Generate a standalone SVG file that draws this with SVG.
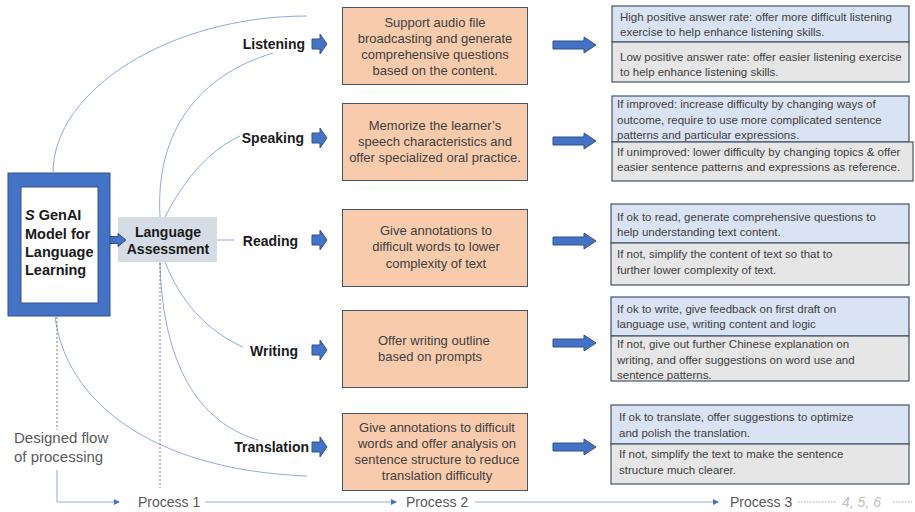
<svg xmlns="http://www.w3.org/2000/svg" xmlns:xlink="http://www.w3.org/1999/xlink" width="915" height="512" viewBox="0 0 915 512">
<style>
text{font-family:"Liberation Sans",Arial,sans-serif}
.lbl{font-size:14px;font-weight:bold;fill:#1a1a1a;text-anchor:end}
.org{fill:#f8cbad;stroke:#44546a;stroke-width:1}
.ot{font-size:13px;fill:#404040;text-anchor:middle}
.bl{fill:#dae3f3;stroke:#44546a;stroke-width:1.2}
.gr{fill:#e7e6e6;stroke:#44546a;stroke-width:1.2}
.rt{font-size:11.5px;fill:#404040}
.cur{fill:none;stroke:#8faadc;stroke-width:1}
.dash{fill:none;stroke:#7f7f7f;stroke-width:1;stroke-dasharray:2,2}
.ax{fill:none;stroke:#8faadc;stroke-width:1}
.pt{font-size:14px;fill:#595959}
.arr{fill:#4472c4;stroke:#2f528f;stroke-width:1}
</style>
<defs>
<path id="la" d="M0,-5 H8 V-10 L15,0 L8,10 V5 H0 Z"/>
<path id="ba" d="M0,-4 H31 V-8 L43,0 L31,8 V4 H0 Z"/>
<marker id="tri" markerWidth="6" markerHeight="6" refX="5" refY="3" orient="auto" markerUnits="userSpaceOnUse">
<path d="M0,0 L6,3 L0,6 Z" fill="#4472c4"/>
</marker>
</defs>

<g id="model">
<rect x="8" y="173" width="102" height="143" fill="#4472c4" stroke="#2f528f" stroke-width="1"/>
<rect x="21" y="187" width="77" height="116" fill="#ffffff" stroke="#2f528f" stroke-width="1"/>
<text x="25" font-size="14.5" font-weight="bold" fill="#1a1a1a"><tspan x="25" y="220"><tspan font-style="italic">S</tspan> GenAI</tspan><tspan x="25" y="239">Model for</tspan><tspan x="25" y="257">Language</tspan><tspan x="25" y="275">Learning</tspan></text>
</g>

<g id="assessment">
<rect x="118" y="217" width="99" height="45" fill="#d6dce5"/>
<text font-size="14" font-weight="bold" fill="#1a1a1a" text-anchor="middle"><tspan x="168" y="237">Language</tspan><tspan x="168" y="254">Assessment</tspan></text>
</g>

<g id="label-listening"><text class="lbl" x="305" y="49">Listening</text></g>
<g id="label-speaking"><text class="lbl" x="304" y="143">Speaking</text></g>
<g id="label-reading"><text class="lbl" x="298" y="246">Reading</text></g>
<g id="label-writing"><text class="lbl" x="298" y="356">Writing</text></g>
<g id="label-translation"><text class="lbl" x="309" y="452">Translation</text></g>

<g id="p2-listening">
<rect class="org" x="342.5" y="7.5" width="185" height="77"/>
<text class="ot"><tspan x="435" y="26.5">Support audio file</tspan><tspan x="435" y="42.5">broadcasting and generate</tspan><tspan x="435" y="58.5">comprehensive questions</tspan><tspan x="435" y="74.5">based on the content.</tspan></text>
</g>
<g id="p2-speaking">
<rect class="org" x="342.5" y="103.5" width="185" height="77"/>
<text class="ot"><tspan x="435" y="129.5">Memorize the learner’s</tspan><tspan x="435" y="145.5">speech characteristics and</tspan><tspan x="435" y="161.5">offer specialized oral practice.</tspan></text>
</g>
<g id="p2-reading">
<rect class="org" x="342.5" y="209.5" width="185" height="77"/>
<text class="ot"><tspan x="436" y="234.5">Give annotations to</tspan><tspan x="436" y="251">difficult words to lower</tspan><tspan x="436" y="267.5">complexity of text</tspan></text>
</g>
<g id="p2-writing">
<rect class="org" x="342.5" y="310.5" width="185" height="77"/>
<text class="ot" style="text-anchor:start"><tspan x="378" y="344.5">Offer writing outline</tspan><tspan x="378" y="360.5">based on prompts</tspan></text>
</g>
<g id="p2-translation">
<rect class="org" x="342.5" y="413.5" width="185" height="77"/>
<text class="ot"><tspan x="437" y="431.5">Give annotations to difficult</tspan><tspan x="437" y="447.5">words and offer analysis on</tspan><tspan x="437" y="463.5">sentence structure to reduce</tspan><tspan x="437" y="480">translation difficulty</tspan></text>
</g>

<g id="p3-listening">
<rect class="bl" x="612" y="6" width="297" height="36"/>
<rect class="gr" x="612" y="42" width="297" height="40"/>
<text class="rt"><tspan x="620" y="21">High positive answer rate: offer more difficult listening</tspan><tspan x="620" y="36">exercise to help enhance listening skills.</tspan></text>
<text class="rt"><tspan x="620" y="61">Low positive answer rate: offer easier listening exercise</tspan><tspan x="620" y="76">to help enhance listening skills.</tspan></text>
</g>
<g id="p3-speaking">
<rect class="bl" x="612" y="96" width="297" height="46"/>
<rect class="gr" x="612" y="142" width="301" height="39"/>
<text class="rt"><tspan x="617" y="108">If improved: increase difficulty by changing ways of</tspan><tspan x="617" y="123.5">outcome, require to use more complicated sentence</tspan><tspan x="617" y="139">patterns and particular expressions.</tspan></text>
<text class="rt"><tspan x="617" y="156">If unimproved: lower difficulty by changing topics &amp; offer</tspan><tspan x="617" y="171">easier sentence patterns and expressions as reference.</tspan></text>
</g>
<g id="p3-reading">
<rect class="bl" x="611" y="204" width="298" height="39"/>
<rect class="gr" x="611" y="243" width="298" height="42"/>
<text class="rt"><tspan x="617" y="221">If ok to read, generate comprehensive questions to</tspan><tspan x="617" y="236">help understanding text content.</tspan></text>
<text class="rt"><tspan x="617" y="258">If not, simplify the content of text so that to</tspan><tspan x="617" y="273.5">further lower complexity of text.</tspan></text>
</g>
<g id="p3-writing">
<rect class="bl" x="611" y="297" width="298" height="39"/>
<rect class="gr" x="611" y="336" width="298" height="45"/>
<text class="rt"><tspan x="617" y="313">If ok to write, give feedback on first draft on</tspan><tspan x="617" y="328">language use, writing content and logic</tspan></text>
<text class="rt"><tspan x="617" y="348">If not, give out further Chinese explanation on</tspan><tspan x="617" y="363.5">writing, and offer suggestions on word use and</tspan><tspan x="617" y="379">sentence patterns.</tspan></text>
</g>
<g id="p3-translation">
<rect class="bl" x="611" y="405" width="298" height="39"/>
<rect class="gr" x="611" y="444" width="298" height="40"/>
<text class="rt"><tspan x="619" y="421">If ok to translate, offer suggestions to optimize</tspan><tspan x="619" y="436.5">and polish the translation.</tspan></text>
<text class="rt"><tspan x="619" y="458">If not, simplify the text to make the sentence</tspan><tspan x="619" y="473.5">structure much clearer.</tspan></text>
</g>

<g id="connectors">
<path class="cur" d="M53,173 C53,90 170,16 307,16"/>
<path class="cur" d="M160,217 C155,130 200,75 273,53"/>
<path class="cur" d="M165,217 C185,178 210,150 240,136"/>
<path class="cur" d="M217,240 H234"/>
<path class="cur" d="M165,262 C180,300 205,330 243,347"/>
<path class="cur" d="M160,262 C162,350 190,420 258,440"/>
<path class="cur" d="M55,316 C65,400 150,470 307,476"/>
<path class="dash" d="M57,317 V430"/>
<path class="dash" d="M160,263 V488"/>
<path class="arr" d="M110,236.5 H118 V233.5 L126,240 L118,246.5 V243.5 H110 Z"/>
<use href="#la" x="312" y="44" class="arr"/>
<use href="#la" x="312" y="138" class="arr"/>
<use href="#la" x="312" y="240" class="arr"/>
<use href="#la" x="312" y="350" class="arr"/>
<use href="#la" x="312" y="447" class="arr"/>
<use href="#ba" x="553" y="45" class="arr"/>
<use href="#ba" x="553" y="141" class="arr"/>
<use href="#ba" x="553" y="241" class="arr"/>
<use href="#ba" x="553" y="343" class="arr"/>
<use href="#ba" x="553" y="447" class="arr"/>
</g>

<g id="process-axis">
<text class="pt" style="font-size:15px"><tspan x="14" y="443">Designed flow</tspan><tspan x="14" y="462">of processing</tspan></text>
<path class="ax" d="M57,470 V502 H119" marker-end="url(#tri)"/>
<text class="pt" x="138" y="507">Process 1</text>
<path class="ax" d="M205,502 H396" marker-end="url(#tri)"/>
<text class="pt" x="406" y="507">Process 2</text>
<path class="ax" d="M475,502 H718" marker-end="url(#tri)"/>
<text class="pt" x="730" y="507">Process 3</text>
<path d="M798,502 H836" fill="none" stroke="#a6a6a6" stroke-width="1" stroke-dasharray="1.5,1.5"/>
<text x="842" y="507" font-size="14" font-style="italic" fill="#bfbfbf">4, 5, 6</text>
<path d="M893,502 H912" fill="none" stroke="#a6a6a6" stroke-width="1" stroke-dasharray="1.5,1.5"/>
</g>
</svg>
